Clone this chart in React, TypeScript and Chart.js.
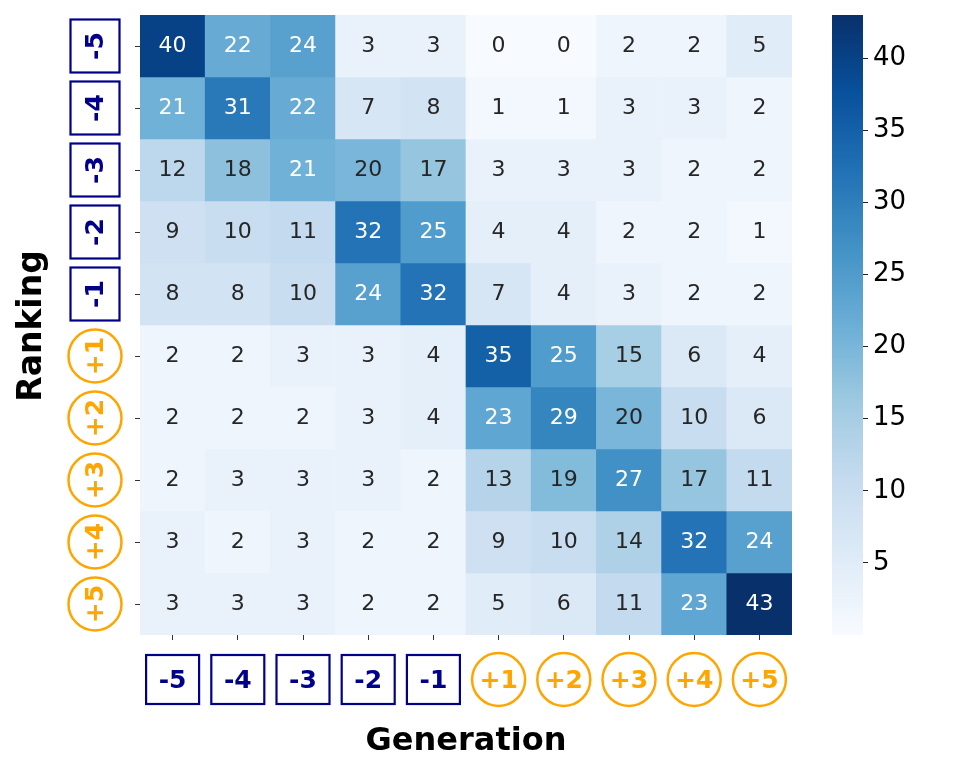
import React, { useEffect, useRef } from "react";
import { Chart, registerables } from "chart.js";

Chart.register(...registerables);

// ---- data ----
const genLabels = ["-5", "-4", "-3", "-2", "-1", "+1", "+2", "+3", "+4", "+5"];
const rankLabels = ["-5", "-4", "-3", "-2", "-1", "+1", "+2", "+3", "+4", "+5"];

const rowM5 = [40, 22, 24, 3, 3, 0, 0, 2, 2, 5];
const rowM4 = [21, 31, 22, 7, 8, 1, 1, 3, 3, 2];
const rowM3 = [12, 18, 21, 20, 17, 3, 3, 3, 2, 2];
const rowM2 = [9, 10, 11, 32, 25, 4, 4, 2, 2, 1];
const rowM1 = [8, 8, 10, 24, 32, 7, 4, 3, 2, 2];
const rowP1 = [2, 2, 3, 3, 4, 35, 25, 15, 6, 4];
const rowP2 = [2, 2, 2, 3, 4, 23, 29, 20, 10, 6];
const rowP3 = [2, 3, 3, 3, 2, 13, 19, 27, 17, 11];
const rowP4 = [3, 2, 3, 2, 2, 9, 10, 14, 32, 24];
const rowP5 = [3, 3, 3, 2, 2, 5, 6, 11, 23, 43];

const rows = [rowM5, rowM4, rowM3, rowM2, rowM1, rowP1, rowP2, rowP3, rowP4, rowP5];

const vMin = 0;
const vMax = 43;
const cbTicks = [5, 10, 15, 20, 25, 30, 35, 40];

// ---- colormap (matplotlib Blues) ----
const BLUES = ["#f7fbff", "#deebf7", "#c6dbef", "#9ecae1", "#6baed6", "#4292c6", "#2171b5", "#08519c", "#08306b"];
const hexRgb = (h: string) => [parseInt(h.slice(1, 3), 16), parseInt(h.slice(3, 5), 16), parseInt(h.slice(5, 7), 16)];
const BLUES_RGB = BLUES.map(hexRgb);

function bluesRgb(t: number): number[] {
  const tt = Math.max(0, Math.min(1, t));
  const pos = tt * 8;
  let i = Math.floor(pos);
  if (i > 7) i = 7;
  const f = pos - i;
  const a = BLUES_RGB[i];
  const b = BLUES_RGB[i + 1];
  return [0, 1, 2].map((k) => a[k] + (b[k] - a[k]) * f);
}
const rgbStr = (c: number[]) => `rgb(${Math.round(c[0])},${Math.round(c[1])},${Math.round(c[2])})`;
function luminance(c: number[]) {
  const lin = c.map((v) => {
    const s = v / 255;
    return s <= 0.03928 ? s / 12.92 : Math.pow((s + 0.055) / 1.055, 2.4);
  });
  return 0.2126 * lin[0] + 0.7152 * lin[1] + 0.0722 * lin[2];
}

const FONT = "'DejaVu Sans', 'Liberation Sans', sans-serif";
const NAVY = "#00008B";
const ORANGE = "#FFA500";

const annotatePlugin = {
  id: "annotate",
  afterDatasetsDraw(chart: any) {
    const ctx = chart.ctx;
    ctx.save();
    ctx.font = `22px ${FONT}`;
    ctx.textAlign = "center";
    ctx.textBaseline = "middle";
    chart.data.datasets.forEach((ds: any, r: number) => {
      const meta = chart.getDatasetMeta(r);
      meta.data.forEach((bar: any, c: number) => {
        const p = bar.getProps(["x", "y", "base"], true);
        const v = rows[r][c];
        const col = bluesRgb((v - vMin) / (vMax - vMin));
        ctx.fillStyle = luminance(col) > 0.408 ? "rgb(38,38,38)" : "#ffffff";
        ctx.fillText(String(v), p.x, (p.y + p.base) / 2);
      });
    });
    ctx.restore();
  },
};

const boxLabel = (ctx: CanvasRenderingContext2D, label: string, cx: number, cy: number, rotated: boolean) => {
  const neg = label.startsWith("-");
  ctx.save();
  ctx.translate(cx, cy);
  if (rotated) ctx.rotate(-Math.PI / 2);
  if (neg) {
    ctx.strokeStyle = NAVY;
    ctx.lineWidth = 2.2;
    ctx.strokeRect(-26.5, -24.5, 53, 49);
    ctx.fillStyle = NAVY;
  } else {
    ctx.strokeStyle = ORANGE;
    ctx.lineWidth = 2.5;
    ctx.beginPath();
    ctx.arc(0, 0, 26.5, 0, Math.PI * 2);
    ctx.stroke();
    ctx.fillStyle = ORANGE;
  }
  ctx.font = `bold 25px ${FONT}`;
  ctx.textAlign = "center";
  ctx.textBaseline = "middle";
  ctx.fillText(label, 0, 1.5);
  ctx.restore();
};

const labelsPlugin = {
  id: "boxedLabels",
  afterDraw(chart: any) {
    const ctx = chart.ctx;
    const xs = chart.scales.x;
    const ys = chart.scales.y;
    genLabels.forEach((l, i) => boxLabel(ctx, l, xs.getPixelForValue(i), 679.5, false));
    rankLabels.forEach((l, i) => boxLabel(ctx, l, 95, ys.getPixelForValue(i), true));
    ctx.save();
    ctx.fillStyle = "#000";
    ctx.font = `bold 32px ${FONT}`;
    ctx.textAlign = "center";
    ctx.textBaseline = "alphabetic";
    ctx.fillText("Generation", (chart.chartArea.left + chart.chartArea.right) / 2, 750);
    ctx.font = `bold 33px ${FONT}`;
    ctx.translate(41, 326);
    ctx.rotate(-Math.PI / 2);
    ctx.fillText("Ranking", 0, 0);
    ctx.restore();
  },
};

export default function App() {
  const mainRef = useRef<HTMLCanvasElement>(null);
  const cbRef = useRef<HTMLCanvasElement>(null);

  useEffect(() => {
    const datasets = rows.map((row, r) => ({
      label: rankLabels[r],
      data: row.map(() => [r - 0.5, r + 0.5]),
      backgroundColor: row.map((v) => rgbStr(bluesRgb((v - vMin) / (vMax - vMin)))),
      borderWidth: 0,
      barPercentage: 1,
      categoryPercentage: 1,
      grouped: false,
    }));

    const main = new Chart(mainRef.current!, {
      type: "bar",
      data: { labels: genLabels, datasets },
      options: {
        animation: false,
        responsive: false,
        devicePixelRatio: 1,
        layout: { padding: { left: 134, right: 177, top: 15, bottom: 134 } },
        plugins: { legend: { display: false }, tooltip: { enabled: false } },
        scales: {
          x: {
            type: "category",
            offset: true,
            grid: { offset: false, drawOnChartArea: false, drawTicks: true, tickLength: 5, color: "#333" },
            border: { display: false },
            ticks: { display: false },
            afterFit: (s: any) => {
              s.height = 6;
            },
          },
          y: {
            type: "linear",
            min: -0.5,
            max: 9.5,
            reverse: true,
            grid: { drawOnChartArea: false, drawTicks: true, tickLength: 5, color: "#333" },
            border: { display: false },
            ticks: { display: false },
            afterBuildTicks: (s: any) => {
              s.ticks = rankLabels.map((_, i) => ({ value: i }));
            },
            afterFit: (s: any) => {
              s.width = 6;
            },
          },
        },
      } as any,
      plugins: [annotatePlugin, labelsPlugin],
    });

    const cb = new Chart(cbRef.current!, {
      type: "bar",
      data: {
        labels: [""],
        datasets: [
          {
            data: [[vMin, vMax]],
            backgroundColor: (c: any) => {
              const area = c.chart.chartArea;
              if (!area) return BLUES[4];
              const g = c.chart.ctx.createLinearGradient(0, area.bottom, 0, area.top);
              BLUES.forEach((h, i) => g.addColorStop(i / 8, h));
              return g;
            },
            borderWidth: 0,
            barPercentage: 1,
            categoryPercentage: 1,
          },
        ],
      },
      options: {
        animation: false,
        responsive: false,
        devicePixelRatio: 1,
        layout: { padding: { left: 0, right: 0, top: 15, bottom: 140 } },
        plugins: { legend: { display: false }, tooltip: { enabled: false } },
        scales: {
          x: { display: false },
          y: {
            position: "right",
            min: vMin,
            max: vMax,
            grid: { drawOnChartArea: false, drawTicks: true, tickLength: 5, color: "#222" },
            border: { display: false },
            ticks: { color: "#000", font: { family: FONT, size: 26 }, padding: 5 },
            afterBuildTicks: (s: any) => {
              s.ticks = cbTicks.map((v) => ({ value: v }));
            },
            afterFit: (s: any) => {
              s.width = 106;
              s.paddingTop = 0;
              s.paddingBottom = 0;
            },
          },
        },
      } as any,
    });

    return () => {
      main.destroy();
      cb.destroy();
    };
  }, []);

  return (
    <div style={{ position: "absolute", left: 0, top: 0, width: 969, height: 775, background: "#fff" }}>
      <canvas ref={mainRef} width={969} height={775} style={{ position: "absolute", left: 0, top: 0 }} />
      <canvas ref={cbRef} width={137} height={775} style={{ position: "absolute", left: 832, top: 0 }} />
    </div>
  );
}
